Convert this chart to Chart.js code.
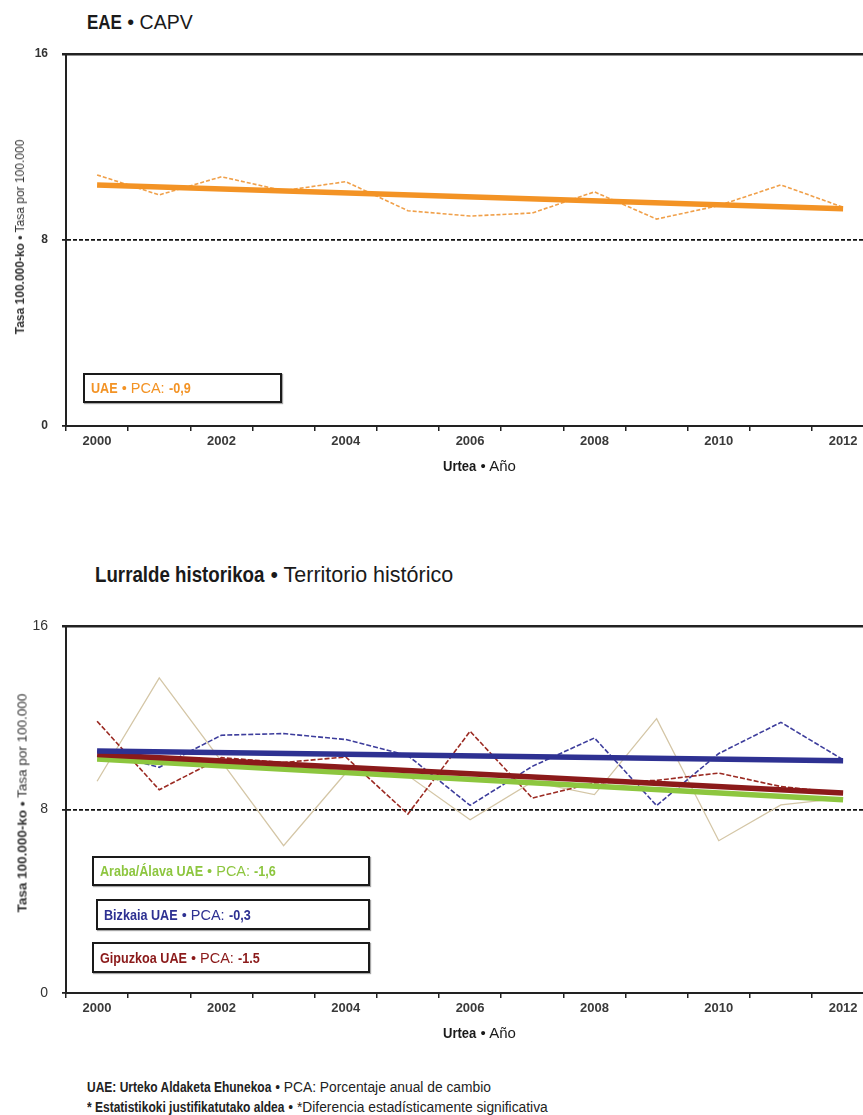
<!DOCTYPE html>
<html>
<head>
<meta charset="utf-8">
<script src="https://cdn.jsdelivr.net/npm/chart.js@4.4.1/dist/chart.umd.min.js"></script>
<style>
  html, body { margin: 0; padding: 0; background: #fff; overflow: hidden; }
  body { width: 863px; height: 1115px; position: relative; font-family: "Liberation Sans", Arial, sans-serif; color: #1a1a1a; }
  canvas { position: absolute; left: 0; }
  b.c { display: inline-block; transform-origin: left center; }
  .heading { position: absolute; line-height: 22px; white-space: nowrap; }
  .xtitle { position: absolute; font-size: 15px; line-height: 16px; white-space: nowrap; }
  .ytitle { position: absolute; white-space: nowrap; color: #333; transform: translate(-50%, -50%) rotate(-90deg); }
  .pca { position: absolute; box-sizing: border-box; border: 2px solid #1a1a1a; background: #fff;
         box-shadow: 1px 1px 1px rgba(0,0,0,0.35); font-size: 14.5px; padding-left: 6px;
         display: flex; align-items: center; white-space: pre; }
  .note { position: absolute; left: 87px; font-size: 13.8px; line-height: 14px; white-space: pre; color: #222; }
</style>
</head>
<body>

<div class="heading" style="left:87px; top:11px; font-size:19.5px;"><b class="c">EAE</b> • CAPV</div>
<canvas id="eae" width="863" height="480" style="top:0px;"></canvas>
<div class="ytitle" style="left:20px; top:237px; font-size:12px;"><b>Tasa 100.000-ko •</b> Tasa por 100.000</div>
<div class="pca" style="left:83px; top:373px; width:199px; height:30px; color:#f39325;"><b class="c">UAE</b> • PCA: <b class="c">-0,9</b></div>
<div class="xtitle" style="left:443px; top:458px;"><b class="c">Urtea</b> • Año</div>

<div class="heading" style="left:95px; top:564px; font-size:21.5px;"><b class="c">Lurralde historikoa</b> • Territorio histórico</div>
<canvas id="th" width="863" height="480" style="top:560px;"></canvas>
<div class="ytitle" style="left:22px; top:803px; font-size:13.5px;"><b>Tasa 100.000-ko •</b> Tasa por 100.000</div>
<div class="pca" style="left:92px; top:856px; width:278px; height:30px; color:#8dc63f;"><b class="c">Araba/Álava UAE</b> • PCA: <b class="c">-1,6</b></div>
<div class="pca" style="left:96px; top:899px; width:274px; height:31px; color:#2e3192;"><b class="c">Bizkaia UAE</b> • PCA: <b class="c">-0,3</b></div>
<div class="pca" style="left:92px; top:942px; width:278px; height:31px; color:#8b1a1a;"><b class="c">Gipuzkoa UAE</b> • PCA: <b class="c">-1.5</b></div>
<div class="xtitle" style="left:443px; top:1025px;"><b class="c">Urtea</b> • Año</div>

<div class="note" style="top:1081px;"><b class="c">UAE: Urteko Aldaketa Ehunekoa</b> • PCA: Porcentaje anual de cambio</div>
<div class="note" style="top:1101px;"><b class="c">* Estatistikoki justifikatutako aldea</b> • *Diferencia estadísticamente significativa</div>

<script>
// years on the x axis, labels shown every second year
const YEARS = [2000, 2001, 2002, 2003, 2004, 2005, 2006, 2007, 2008, 2009, 2010, 2011, 2012];
const X_LABEL_YEARS = [2000, 2002, 2004, 2006, 2008, 2010, 2012];
const X_MIN = 1999.5;
const X_MAX = 2012.32; // the reference is cut just past the 2012 point
const Y_TICKS = [0, 8, 16];
const REF_LEVEL = 8;

// EAE / CAPV
const EAE_RATE  = [10.8, 9.94, 10.72, 10.12, 10.51, 9.26, 9.03, 9.16, 10.07, 8.9, 9.48, 10.37, 9.41];
const EAE_TREND = [10.37, null, null, null, null, null, null, null, null, null, null, null, 9.34];

// territorios
const ARABA_RATE    = [9.23, 13.74, 10.1, 6.42, 9.59, 9.48, 7.55, 9.2, 8.65, 11.96, 6.64, 8.2, 8.5];
const BIZKAIA_RATE  = [10.54, 9.84, 11.24, 11.31, 11.05, 10.35, 8.18, 9.88, 11.12, 8.17, 10.44, 11.8, 10.17];
const GIPUZKOA_RATE = [11.85, 8.86, 10.26, 10.05, 10.29, 7.8, 11.41, 8.5, 9.16, 9.27, 9.59, 9.0, 8.72];
const ARABA_TREND    = [10.2, null, null, null, null, null, null, null, null, null, null, null, 8.43];
const BIZKAIA_TREND  = [10.55, null, null, null, null, null, null, null, null, null, null, null, 10.12];
const GIPUZKOA_TREND = [10.4, null, null, null, null, null, null, null, null, null, null, null, 8.72];

// squeeze the bold words a bit, the original uses a condensed bold face
const CONDENSE = 0.87;
document.querySelectorAll('b.c').forEach(el => {
  const w = el.getBoundingClientRect().width;
  el.style.transform = 'scaleX(' + CONDENSE + ')';
  el.style.marginRight = (-w * (1 - CONDENSE)) + 'px';
});

const trend = (data, color) => ({
  data, borderColor: color, borderWidth: 5.5, spanGaps: true, pointRadius: 0, tension: 0
});
const observed = (data, color, dash, width) => ({
  data, borderColor: color, borderWidth: width || 1.5, borderDash: dash || [], pointRadius: 0, tension: 0
});

function makeChart(id, datasets, pad, tickFont) {
  return new Chart(document.getElementById(id), {
    type: 'line',
    data: { labels: YEARS, datasets },
    options: {
      responsive: false,
      animation: false,
      layout: { padding: { top: pad.top, bottom: pad.bottom, left: 0, right: 0 } },
      plugins: { legend: { display: false }, tooltip: { enabled: false } },
      scales: {
        x: {
          type: 'linear', position: 'bottom', min: X_MIN, max: X_MAX,
          afterBuildTicks: s => { s.ticks = YEARS.map(v => ({ value: v - 0.5 })); },
          afterFit: s => { s.height = 6; },
          ticks: { display: false },
          grid: { drawOnChartArea: false, drawTicks: true, tickLength: 5, color: '#222', lineWidth: 1.5 },
          border: { color: '#222', width: 2 }
        },
        years: {
          type: 'linear', position: 'bottom', min: X_MIN, max: X_MAX,
          afterBuildTicks: s => { s.ticks = X_LABEL_YEARS.map(v => ({ value: v })); },
          afterFit: s => { s.height = 22; },
          grid: { display: false, drawTicks: false },
          border: { display: false },
          ticks: { autoSkip: false, maxRotation: 0, padding: 2, color: '#3a3a3a',
                   font: { family: 'Liberation Sans, Arial', size: 13, weight: 'bold' }, callback: v => String(v) }
        },
        y: {
          min: 0, max: 16,
          afterBuildTicks: s => { s.ticks = Y_TICKS.map(v => ({ value: v })); },
          afterFit: s => { s.width = 66; },
          ticks: { padding: 14, color: '#333', font: tickFont },
          grid: {
            color: c => c.tick && c.tick.value === 16 ? '#222' : (c.tick && c.tick.value === REF_LEVEL ? '#111' : 'rgba(0,0,0,0)'),
            lineWidth: c => c.tick && c.tick.value === 16 ? 2.5 : 1.8,
            tickColor: '#222', tickLength: 4
          },
          border: { color: '#222', width: 2, dash: c => (c.tick && c.tick.value === REF_LEVEL) ? [4, 2] : [] }
        }
      }
    }
  });
}

makeChart('eae', [
  trend(EAE_TREND, '#f39325'),
  observed(EAE_RATE, '#f0a04a', [4, 2], 1.6)
], { top: 54, bottom: 26 }, { family: 'Liberation Sans, Arial', size: 12, weight: 'bold' });

makeChart('th', [
  trend(BIZKAIA_TREND, '#2e3192'),
  trend(GIPUZKOA_TREND, '#8b1a1a'),
  trend(ARABA_TREND, '#8dc63f'),
  observed(GIPUZKOA_RATE, '#9b2a22', [5, 2], 1.6),
  observed(BIZKAIA_RATE, '#3d3d9c', [5, 2], 1.6),
  observed(ARABA_RATE, '#d4c6a6', [], 1.3)
], { top: 66, bottom: 19 }, { family: 'Liberation Sans, Arial', size: 14 });
</script>
</body>
</html>
